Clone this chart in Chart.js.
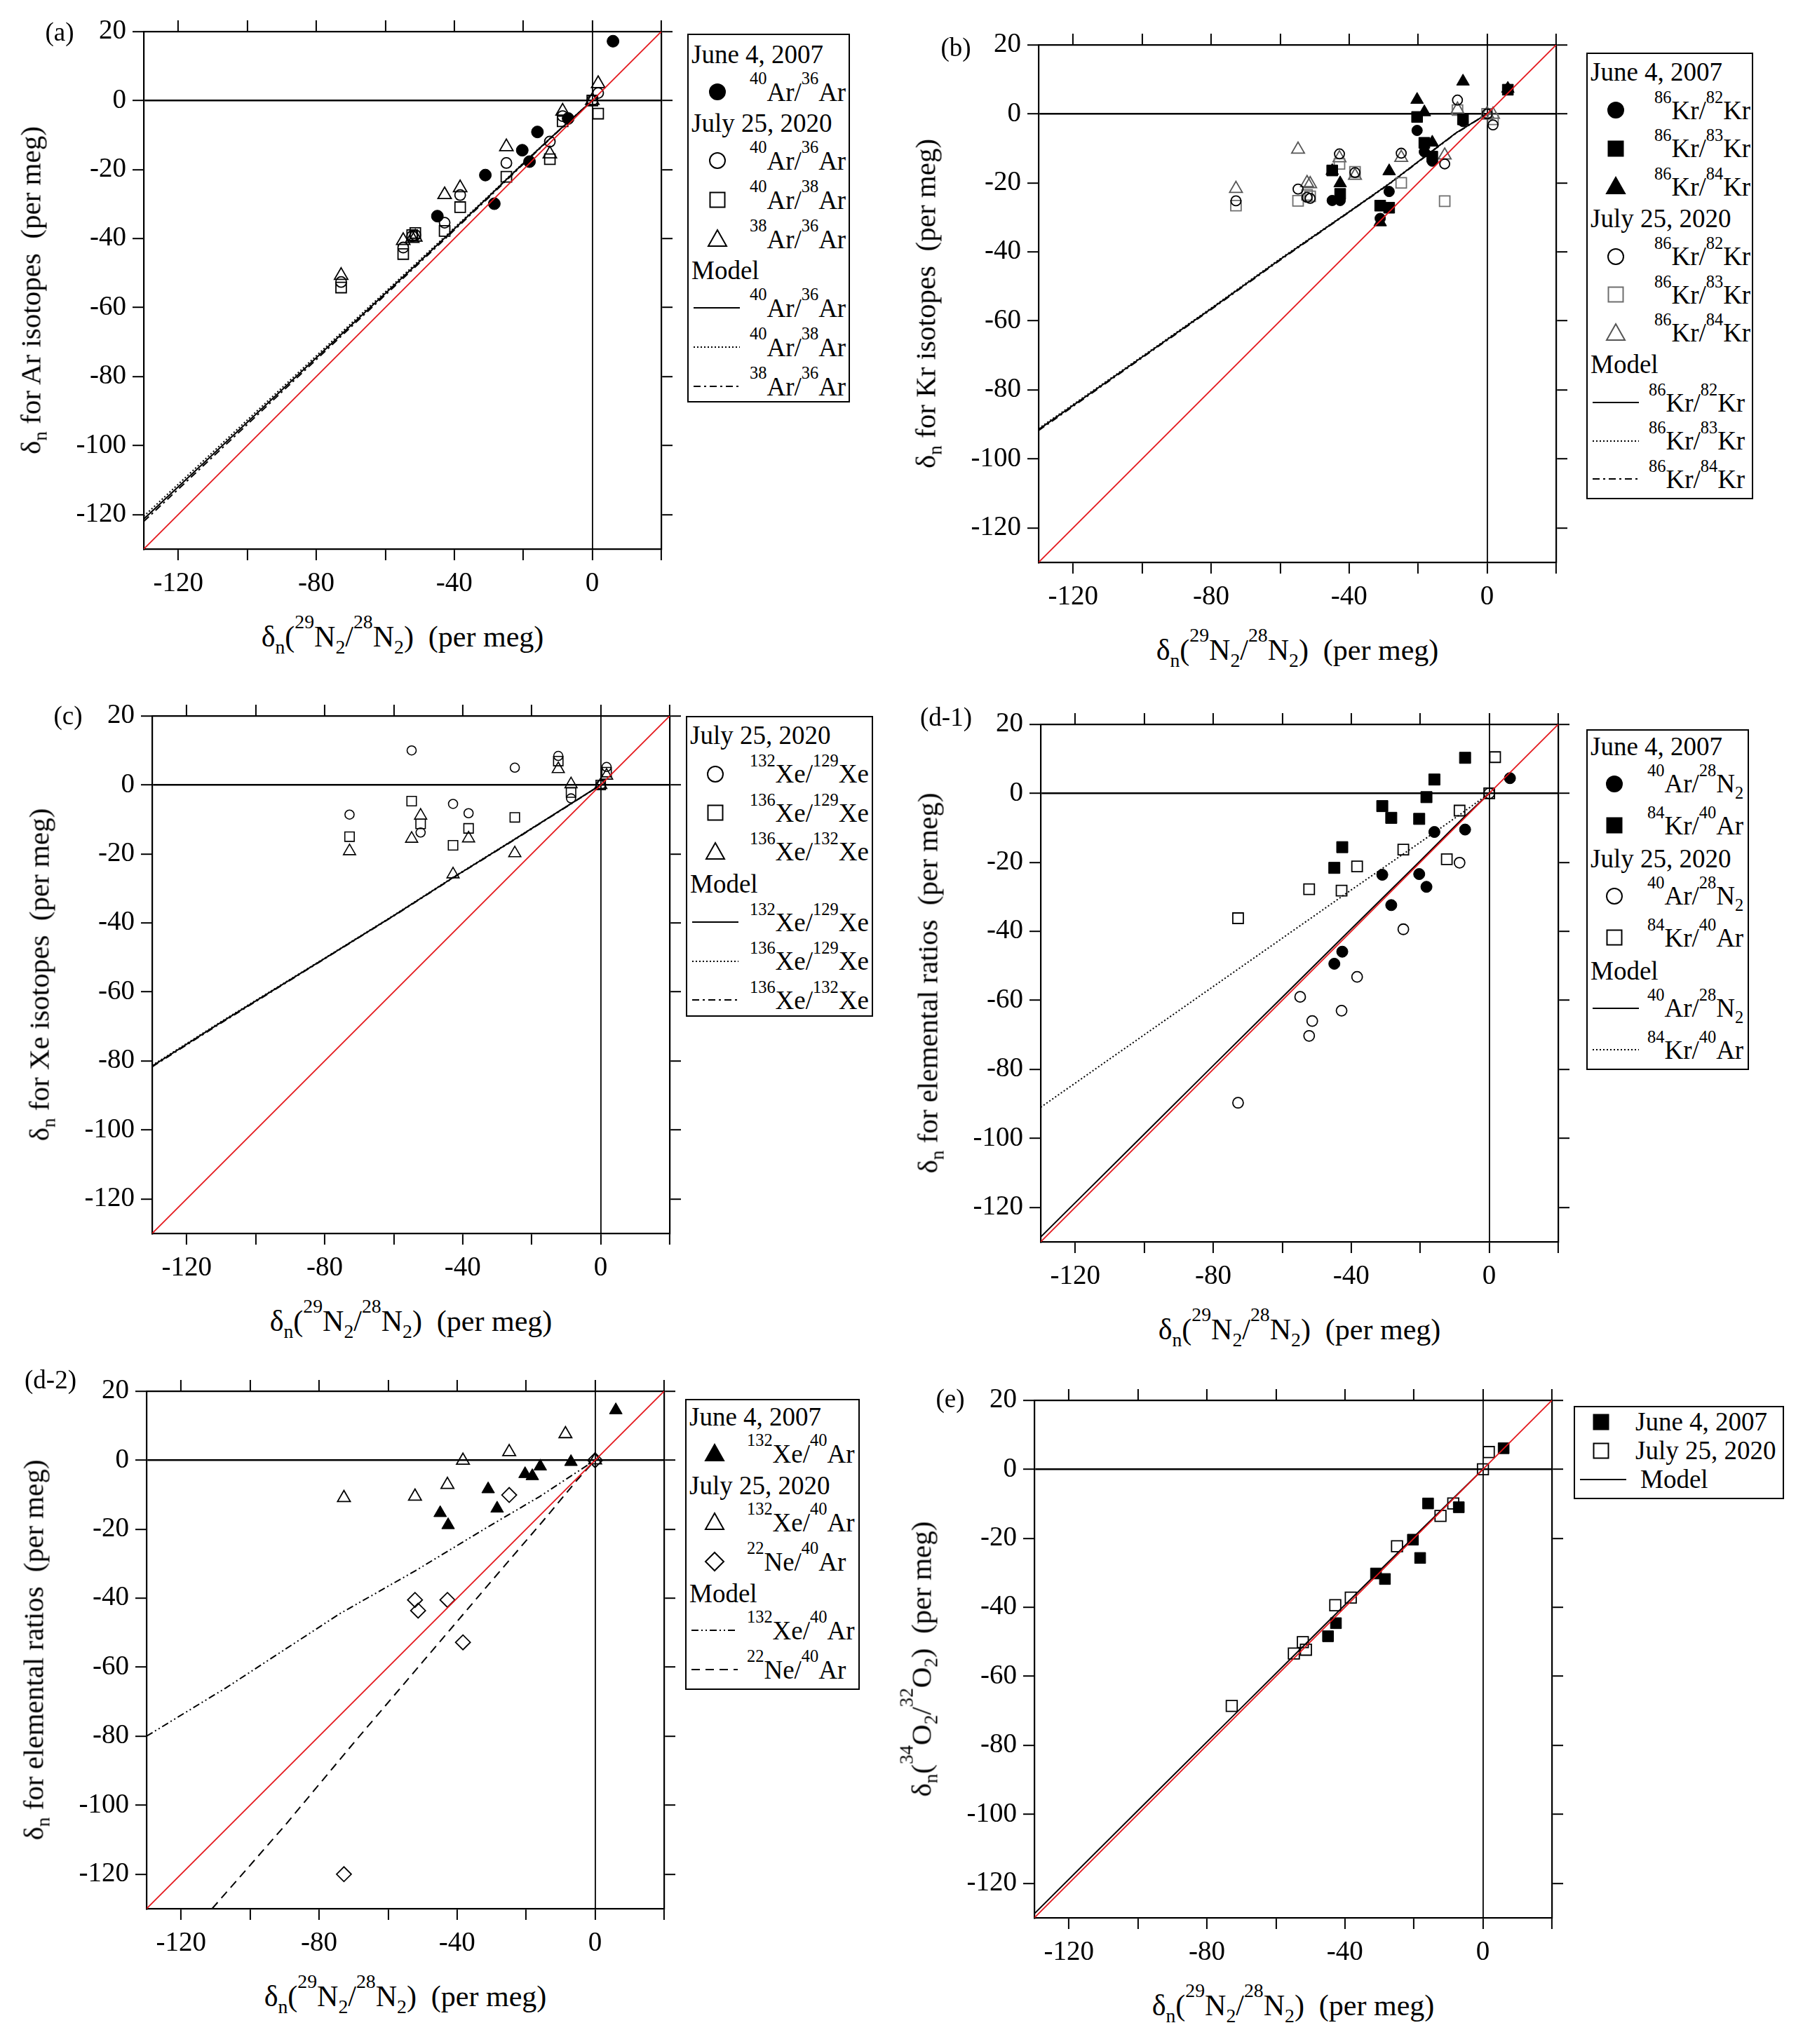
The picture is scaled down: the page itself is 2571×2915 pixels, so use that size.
<!DOCTYPE html>
<html>
<head>
<meta charset="utf-8">
<title>Noble gas and O2 isotope ratios vs d29N2</title>
<script src="https://cdn.jsdelivr.net/npm/chart.js@4.4.1/dist/chart.umd.min.js"></script>
<style>
  html, body { margin: 0; padding: 0; background: #fff; }
  body {
    width: 2571px; height: 2915px; position: relative; overflow: hidden;
    font-family: "Liberation Serif", "Times New Roman", serif; color: #000;
  }
  canvas { position: absolute; }
  sup, sub { font-size: 0.66em; line-height: 0; position: relative; vertical-align: baseline; }
  sup { top: -0.95em; }
  sub { top: 0.35em; }
  .tag, .xtitle, .ytitle { position: absolute; line-height: 1; white-space: nowrap; }
  .tag    { font-size: 37px; transform: translate(-50%, -50%); }
  .xtitle { font-size: 42px; transform: translate(-50%, -50%); }
  .ytitle { font-size: 41px; transform: translate(-50%, -50%) rotate(-90deg); }
  .legend {
    position: absolute; box-sizing: border-box; border: 2px solid #000;
    background: #fff; font-size: 37px; line-height: 1; z-index: 2;
  }
  .legend .head { display: flex; align-items: center; padding-left: 4px; white-space: nowrap; }
  .legend .item { display: flex; align-items: center; white-space: nowrap; box-sizing: border-box; }
  .legend .sym  { flex: none; display: flex; align-items: center; }
</style>
</head>
<body>
<script>
/* ── Shared axes ───────────────────────────────────────────────────────────── */
const AXIS_MIN = -130;
const AXIS_MAX = 20;
const X_TICKS = [-120, -100, -80, -60, -40, -20, 0, 20];
const X_TICK_LABELS = [-120, -80, -40, 0];
const Y_TICKS = [-120, -100, -80, -60, -40, -20, 0, 20];
const ONE_TO_ONE = [-130, 20];

// δn(29N2/28N2) of each sample (x of every point)
const X_2007 = [6.0, -7.0, -15.9, -18.2, -20.3, -28.4, -31.0, -42.6, -44.9];
const X_2020 = [1.7, 0, -8.6, -12.3, -24.9, -38.3, -42.8, -51.3, -52.2, -54.8, -72.8];

/* ── (a) Ar isotopes ───────────────────────────────────────────────────────── */
const A_AR40_36_2007 = [17.2, -5.2, -9.1, -17.7, -14.4, -29.9, -21.6, null, -33.5];
const A_AR40_36_2020 = [2.2, 0, -4.5, -11.9, -18.1, -27.4, -35.4, -39.0, -39.3, -42.6, -52.6];
const A_AR40_38_2020 = [-3.8, 0, -6.0, -17.0, -22.1, -30.9, -37.8, -38.4, -39.0, -44.5, -54.2];
const A_AR38_36_2020 = [4.9, 0, -3.1, -15.5, -13.4, -25.3, -27.3, -39.6, -40.0, -40.6, -50.7];
const A_MODEL_X = [-130, -110, -90, -70, -50, -30, -20, -10, 0];
const A_MODEL_AR40_36 = [-121.3, -102.6, -83.9, -65.2, -46.6, -27.8, -18.2, -8.9, 0];
const A_MODEL_AR40_38 = [-120.5, -101.9, -83.3, -64.7, -46.2, -27.6, -18.1, -8.9, 0];
const A_MODEL_AR38_36 = [-122.0, -103.3, -84.5, -65.7, -47.0, -28.1, -18.4, -9.0, 0];

/* ── (b) Kr isotopes ───────────────────────────────────────────────────────── */
const B_KR82_2007 = [7.2, -2.2, -13.7, -11.0, -4.8, -22.5, -30.3, -25.1, -25.1];
const B_KR83_2007 = [7.0, -1.6, -12.4, -8.4, -0.9, -27.2, -26.6, -23.2, -16.4];
const B_KR84_2007 = [7.3, 9.4, -8.3, 0.5, 4.1, -16.6, -31.4, -20.1, -16.5];
const B_KR82_2020 = [-3.2, 0, 4.0, -14.5, -11.4, -17.0, -11.6, -24.5, -24.2, -21.8, -25.2];
const B_KR83_2020 = [-1.6, 0, 1.1, -25.3, -20.0, -16.8, -14.5, -23.9, -23.5, -25.2, -26.6];
const B_KR84_2020 = [-0.2, 0, 1.3, -12.0, -12.7, -17.9, -12.8, -20.3, -20.0, -10.3, -21.7];
const B_MODEL_X = [-130, -100, -80, -60, -40, -28, -16, -9, 0];
const B_MODEL_82 = [-91.5, -70.5, -56.5, -42.2, -28.4, -20.0, -10.8, -5.5, 0];
const B_MODEL_83 = [-91.2, -70.3, -56.3, -42.0, -28.3, -19.9, -10.8, -5.5, 0];
const B_MODEL_84 = [-91.8, -70.7, -56.7, -42.4, -28.5, -20.1, -10.9, -5.6, 0];

/* ── (c) Xe isotopes ───────────────────────────────────────────────────────── */
const C_XE132_129 = [5.2, 0, -3.9, 8.4, 5.0, -8.2, -5.5, null, -13.8, 10.0, -8.6];
const C_XE136_129 = [3.7, 0, -2.2, 6.9, -9.4, -12.6, -17.5, null, -11.3, -4.7, -15.0];
const C_XE136_132 = [2.7, 0, 0.2, 4.6, -19.8, -15.5, -25.9, null, -8.9, -15.6, -19.2];
const C_MODEL_X = [-130, -110, -80, -60, -43, -25, -10, 0];
const C_MODEL_132_129 = [-81.5, -68.8, -50.3, -37.9, -27.0, -15.8, -6.3, 0];
const C_MODEL_136_129 = [-81.3, -68.6, -50.2, -37.8, -26.9, -15.7, -6.3, 0];
const C_MODEL_136_132 = [-81.7, -69.0, -50.4, -38.0, -27.1, -15.9, -6.4, 0];

/* ── (d-1) Ar/N2 and Kr/Ar ─────────────────────────────────────────────────── */
const D1_AR_N2_2007 = [4.4, -10.5, -11.2, -27.1, -23.4, -32.4, -23.6, -45.9, -49.4];
const D1_KR_AR_2007 = [null, 10.3, 4.0, -1.1, -7.4, -7.1, -3.7, -15.6, -21.6];
const D1_AR_N2_2020 = [null, 0, -20.1, null, -39.4, -53.2, -63.0, -66.0, -70.3, -59.0, -89.7];
const D1_KR_AR_2020 = [10.5, 0, -5.0, -19.1, -16.3, -21.2, -28.2, null, -27.8, null, -36.2];
const D1_MODEL_X = [-130, -100, -80, -60, -40, -20, -8, 0];
const D1_MODEL_AR_N2 = [-128.6, -98.8, -78.9, -59.1, -39.3, -19.6, -7.6, 0];
const D1_MODEL_KR_AR = [-91.0, -70.0, -56.0, -42.0, -28.0, -14.2, -5.8, 0];

/* ── (d-2) Xe/Ar and Ne/Ar ─────────────────────────────────────────────────── */
const D2_XE_AR_2007 = [14.5, -0.5, -1.8, -4.6, -4.0, -14.0, -8.4, -18.8, -15.3];
const D2_XE_AR_2020 = [null, 0, 7.6, null, 2.4, -0.1, -7.1, null, -10.5, null, -10.9];
const D2_NE_AR_2020 = [null, 0, null, null, -10.1, -52.8, -40.5, -43.6, -40.5, null, -120.0];
const D2_MODEL_XE_X = [-130, -107, -74, -52, -31, -16, 0];
const D2_MODEL_XE_AR = [-80.0, -66.0, -44.5, -32.0, -19.3, -10.5, 0];
const D2_MODEL_NE_X = [-111, -90, -70, -50, -30, -15, -5, 0];
const D2_MODEL_NE_AR = [-130, -106, -82, -58.5, -35, -17.5, -5.5, 0];

/* ── (e) O2 ────────────────────────────────────────────────────────────────── */
const E_O2_2007 = [6.1, -11.0, -9.9, -25.7, -20.4, -31.8, -30.2, -44.6, -48.4];
const E_O2_2020 = [5.0, 0, -9.9, -13.5, -22.3, -37.2, -39.4, -52.3, -50.1, -53.4, -68.6];
const E_MODEL_X = [-130, -100, -70, -40, -20, 0];
const E_MODEL_O2 = [-128.8, -98.9, -69.1, -39.3, -19.6, 0];

/* ── Styling ───────────────────────────────────────────────────────────────── */
const RED = "#e3161b";
const GREY_SQ = "#6e6e6e";
const GREY_TRI = "#555555";
const SOLID = [];
const DOT = [2, 3];
const DASH_DOT = [10, 5, 3, 5];
const DASH_DOT_DOT = [10, 4, 2, 4, 2, 4];
const DASH = [12, 8];
const TICK_FONT = { family: "Liberation Serif", size: 39 };

Chart.defaults.font.family = "Liberation Serif";

const PLOT = 738;                    // plot area is square, 150 units each way
const PAD_L = 150, PAD_R = 40, PAD_T = 50, PAD_B = 80;

const X_TITLE = "δ<sub>n</sub>(<sup>29</sup>N<sub>2</sub>/<sup>28</sup>N<sub>2</sub>)&nbsp; (per meg)";

// ── dataset helpers ───────────────────────────────────────────────────────────
function pts(xs, ys, style, filled, color, r, bw) {
  return {
    data: xs.map((x, i) => ({ x, y: ys[i] })).filter((p) => p.y !== null),
    pointStyle: style,
    pointRadius: r,
    pointBorderWidth: bw || (filled ? 1 : 1.8),
    pointBorderColor: color,
    pointBackgroundColor: filled ? color : "rgba(0,0,0,0)",
    showLine: false,
  };
}

function line(xs, ys, dash, color, width) {
  return {
    data: xs.map((x, i) => ({ x, y: ys[i] })),
    showLine: true,
    borderColor: color || "#000",
    borderWidth: width || 2,
    borderDash: dash,
    pointRadius: 0,
    fill: false,
    tension: 0,
  };
}

function redLine() {
  return line(ONE_TO_ONE, ONE_TO_ONE, SOLID, RED, 1.8);
}

// ── axes ──────────────────────────────────────────────────────────────────────
function axis(position, size, labels) {
  const horizontal = position === "bottom" || position === "top";
  const main = position === "bottom" || position === "left";
  return {
    type: "linear",
    position,
    min: AXIS_MIN,
    max: AXIS_MAX,
    afterBuildTicks: (s) => {
      s.ticks = (horizontal ? X_TICKS : Y_TICKS).map((v) => ({ value: v }));
    },
    afterFit: (s) => {
      if (horizontal) s.height = size;
      else s.width = size;
    },
    border: { display: true, color: "#000", width: 2.2 },
    grid: {
      drawOnChartArea: main,
      color: (ctx) => (ctx.tick && ctx.tick.value === 0 ? "#000" : "rgba(0,0,0,0)"),
      lineWidth: horizontal ? 1.8 : 2.4,
      drawTicks: true,
      tickLength: 16,
      tickWidth: 2,
      tickColor: "#000",
    },
    ticks: {
      display: !!labels,
      autoSkip: false,
      maxRotation: 0,
      minRotation: 0,
      padding: horizontal ? 10 : 9,
      color: "#000",
      font: TICK_FONT,
      callback: (v) => (labels && labels.includes(v) ? String(v) : ""),
    },
  };
}

// ── panel ─────────────────────────────────────────────────────────────────────
function addText(cls, html, x, y) {
  const el = document.createElement("div");
  el.className = cls;
  el.innerHTML = html;
  el.style.left = x + "px";
  el.style.top = y + "px";
  document.body.appendChild(el);
}

function drawPanel(p, datasets) {
  const canvas = document.createElement("canvas");
  canvas.width = PAD_L + PLOT + PAD_R;
  canvas.height = PAD_T + PLOT + PAD_B;
  canvas.style.left = (p.left - PAD_L) + "px";
  canvas.style.top = (p.top - PAD_T) + "px";
  canvas.style.width = canvas.width + "px";
  canvas.style.height = canvas.height + "px";
  document.body.appendChild(canvas);

  new Chart(canvas, {
    type: "scatter",
    data: { datasets },
    options: {
      responsive: false,
      animation: false,
      devicePixelRatio: 1,
      events: [],
      layout: { padding: 0 },
      plugins: { legend: { display: false }, tooltip: { enabled: false } },
      scales: {
        x: axis("bottom", PAD_B, X_TICK_LABELS),
        y: axis("left", PAD_L, Y_TICKS),
        x2: axis("top", PAD_T, null),
        y2: axis("right", PAD_R, null),
      },
    },
  });

  addText("tag", p.tag, p.tagX, p.tagY);
  addText("xtitle", X_TITLE, p.left + PLOT / 2, p.top + PLOT + 125);
  addText("ytitle", p.ytitle, p.left - 161, p.top + PLOT / 2);
}

// ── legend ────────────────────────────────────────────────────────────────────
function symbolSvg(kind, filled, color, w, cx) {
  const cy = 20;
  const fill = filled ? color : "none";
  const a = `fill="${fill}" stroke="${color}" stroke-width="2"`;
  let shape = "";
  if (kind === "circle") shape = `<circle cx="${cx}" cy="${cy}" r="11" ${a}/>`;
  if (kind === "rect") shape = `<rect x="${cx - 10.5}" y="${cy - 10.5}" width="21" height="21" ${a}/>`;
  if (kind === "triangle") shape = `<polygon points="${cx},${cy - 13} ${cx + 13},${cy + 10} ${cx - 13},${cy + 10}" ${a}/>`;
  if (kind === "rectRot") shape = `<polygon points="${cx},${cy - 13} ${cx + 13},${cy} ${cx},${cy + 13} ${cx - 13},${cy}" ${a}/>`;
  return `<svg width="${w}" height="40">${shape}</svg>`;
}

function lineSvg(dash, w) {
  return `<svg width="${w}" height="40"><line x1="7" y1="20" x2="73" y2="20" stroke="#000" stroke-width="2" stroke-dasharray="${dash.join(",")}"/></svg>`;
}

function buildLegend(cfg, rows) {
  const box = document.createElement("div");
  box.className = "legend";
  box.style.left = cfg.left + "px";
  box.style.top = cfg.top + "px";
  box.style.width = cfg.width + "px";
  box.style.height = cfg.height + "px";
  box.style.paddingTop = cfg.padTop + "px";
  for (const r of rows) {
    const row = document.createElement("div");
    if (r[0] === "h") {
      row.className = "head";
      row.style.height = cfg.headH + "px";
      row.innerHTML = r[1];
    } else {
      row.className = "item";
      row.style.height = cfg.itemH + "px";
      row.style.paddingTop = 2 * cfg.shift + "px";
      const w = (r[0] === "p" ? cfg.labelX : cfg.lineLabelX) - 2;
      const svg = r[0] === "p"
        ? symbolSvg(r[1], r[2], r[3], w, cfg.symX - 2)
        : lineSvg(r[1], w);
      row.innerHTML = `<span class="sym" style="width:${w}px">${svg}</span><span>${r[r.length - 1]}</span>`;
    }
    box.appendChild(row);
  }
  document.body.appendChild(box);
}

const AR40_36 = "<sup>40</sup>Ar/<sup>36</sup>Ar";
const AR40_38 = "<sup>40</sup>Ar/<sup>38</sup>Ar";
const AR38_36 = "<sup>38</sup>Ar/<sup>36</sup>Ar";
const KR82 = "<sup>86</sup>Kr/<sup>82</sup>Kr";
const KR83 = "<sup>86</sup>Kr/<sup>83</sup>Kr";
const KR84 = "<sup>86</sup>Kr/<sup>84</sup>Kr";
const XE132_129 = "<sup>132</sup>Xe/<sup>129</sup>Xe";
const XE136_129 = "<sup>136</sup>Xe/<sup>129</sup>Xe";
const XE136_132 = "<sup>136</sup>Xe/<sup>132</sup>Xe";
const AR_N2 = "<sup>40</sup>Ar/<sup>28</sup>N<sub>2</sub>";
const KR_AR = "<sup>84</sup>Kr/<sup>40</sup>Ar";
const XE_AR = "<sup>132</sup>Xe/<sup>40</sup>Ar";
const NE_AR = "<sup>22</sup>Ne/<sup>40</sup>Ar";

/* ── (a) ───────────────────────────────────────────────────────────────────── */
drawPanel(
  { tag: "(a)", tagX: 85, tagY: 45, left: 205, top: 45,
    ytitle: "δ<sub>n</sub> for Ar isotopes&nbsp; (per meg)" },
  [
    redLine(),
    pts(X_2007, A_AR40_36_2007, "circle", true, "#000", 8.5),
    pts(X_2020, A_AR40_36_2020, "circle", false, "#000", 7.5),
    pts(X_2020, A_AR40_38_2020, "rect", false, "#000", 10.5),
    pts(X_2020, A_AR38_36_2020, "triangle", false, "#000", 11),
    line(A_MODEL_X, A_MODEL_AR40_36, SOLID),
    line(A_MODEL_X, A_MODEL_AR40_38, DOT),
    line(A_MODEL_X, A_MODEL_AR38_36, DASH_DOT),
  ]
);
buildLegend(
  { left: 980, top: 48, width: 232, height: 526, padTop: 6, headH: 42, itemH: 56, shift: 5,
    symX: 43, labelX: 89, lineLabelX: 89 },
  [
    ["h", "June 4, 2007"],
    ["p", "circle", true, "#000", AR40_36],
    ["h", "July 25, 2020"],
    ["p", "circle", false, "#000", AR40_36],
    ["p", "rect", false, "#000", AR40_38],
    ["p", "triangle", false, "#000", AR38_36],
    ["h", "Model"],
    ["l", SOLID, AR40_36],
    ["l", DOT, AR40_38],
    ["l", DASH_DOT, AR38_36],
  ]
);

/* ── (b) ───────────────────────────────────────────────────────────────────── */
drawPanel(
  { tag: "(b)", tagX: 1363, tagY: 67, left: 1481, top: 64,
    ytitle: "δ<sub>n</sub> for Kr isotopes&nbsp; (per meg)" },
  [
    redLine(),
    pts(X_2007, B_KR82_2007, "circle", true, "#000", 7.5),
    pts(X_2007, B_KR83_2007, "rect", true, "#000", 11),
    pts(X_2007, B_KR84_2007, "triangle", true, "#000", 10.5),
    pts(X_2020, B_KR82_2020, "circle", false, "#000", 7),
    pts(X_2020, B_KR83_2020, "rect", false, GREY_SQ, 10.5),
    pts(X_2020, B_KR84_2020, "triangle", false, GREY_TRI, 10.5),
    line(B_MODEL_X, B_MODEL_82, SOLID),
    line(B_MODEL_X, B_MODEL_83, DOT),
    line(B_MODEL_X, B_MODEL_84, DASH_DOT),
  ]
);
buildLegend(
  { left: 2262, top: 75, width: 238, height: 637, padTop: 3, headH: 45, itemH: 54.5, shift: 5,
    symX: 42, labelX: 97, lineLabelX: 89 },
  [
    ["h", "June 4, 2007"],
    ["p", "circle", true, "#000", KR82],
    ["p", "rect", true, "#000", KR83],
    ["p", "triangle", true, "#000", KR84],
    ["h", "July 25, 2020"],
    ["p", "circle", false, "#000", KR82],
    ["p", "rect", false, GREY_SQ, KR83],
    ["p", "triangle", false, GREY_TRI, KR84],
    ["h", "Model"],
    ["l", SOLID, KR82],
    ["l", DOT, KR83],
    ["l", DASH_DOT, KR84],
  ]
);

/* ── (c) ───────────────────────────────────────────────────────────────────── */
drawPanel(
  { tag: "(c)", tagX: 97, tagY: 1020, left: 217, top: 1021,
    ytitle: "δ<sub>n</sub> for Xe isotopes&nbsp; (per meg)" },
  [
    redLine(),
    pts(X_2020, C_XE132_129, "circle", false, "#000", 6.5, 1.6),
    pts(X_2020, C_XE136_129, "rect", false, "#000", 9.5, 1.6),
    pts(X_2020, C_XE136_132, "triangle", false, "#000", 10, 1.6),
    line(C_MODEL_X, C_MODEL_132_129, SOLID),
    line(C_MODEL_X, C_MODEL_136_129, DOT),
    line(C_MODEL_X, C_MODEL_136_132, DASH_DOT),
  ]
);
buildLegend(
  { left: 978, top: 1021, width: 267, height: 429, padTop: 3, headH: 45, itemH: 55.5, shift: 5,
    symX: 42, labelX: 91, lineLabelX: 91 },
  [
    ["h", "July 25, 2020"],
    ["p", "circle", false, "#000", XE132_129],
    ["p", "rect", false, "#000", XE136_129],
    ["p", "triangle", false, "#000", XE136_132],
    ["h", "Model"],
    ["l", SOLID, XE132_129],
    ["l", DOT, XE136_129],
    ["l", DASH_DOT, XE136_132],
  ]
);

/* ── (d-1) ─────────────────────────────────────────────────────────────────── */
drawPanel(
  { tag: "(d-1)", tagX: 1349, tagY: 1022, left: 1484, top: 1033,
    ytitle: "δ<sub>n</sub> for elemental ratios&nbsp; (per meg)" },
  [
    redLine(),
    pts(X_2007, D1_AR_N2_2007, "circle", true, "#000", 8),
    pts(X_2007, D1_KR_AR_2007, "rect", true, "#000", 11.3),
    pts(X_2020, D1_AR_N2_2020, "circle", false, "#000", 7.5),
    pts(X_2020, D1_KR_AR_2020, "rect", false, "#000", 10.6),
    line(D1_MODEL_X, D1_MODEL_AR_N2, SOLID),
    line(D1_MODEL_X, D1_MODEL_KR_AR, DOT),
  ]
);
buildLegend(
  { left: 2262, top: 1040, width: 232, height: 486, padTop: 2, headH: 41, itemH: 59.5, shift: 3,
    symX: 40, labelX: 87, lineLabelX: 87 },
  [
    ["h", "June 4, 2007"],
    ["p", "circle", true, "#000", AR_N2],
    ["p", "rect", true, "#000", KR_AR],
    ["h", "July 25, 2020"],
    ["p", "circle", false, "#000", AR_N2],
    ["p", "rect", false, "#000", KR_AR],
    ["h", "Model"],
    ["l", SOLID, AR_N2],
    ["l", DOT, KR_AR],
  ]
);

/* ── (d-2) ─────────────────────────────────────────────────────────────────── */
drawPanel(
  { tag: "(d-2)", tagX: 72, tagY: 1967, left: 209, top: 1984,
    ytitle: "δ<sub>n</sub> for elemental ratios&nbsp; (per meg)" },
  [
    redLine(),
    pts(X_2007, D2_XE_AR_2007, "triangle", true, "#000", 10.5),
    pts(X_2020, D2_XE_AR_2020, "triangle", false, "#000", 10.5),
    pts(X_2020, D2_NE_AR_2020, "rectRot", false, "#000", 10.5),
    line(D2_MODEL_XE_X, D2_MODEL_XE_AR, DASH_DOT_DOT),
    line(D2_MODEL_NE_X, D2_MODEL_NE_AR, DASH),
  ]
);
buildLegend(
  { left: 977, top: 1995, width: 249, height: 415, padTop: 2, headH: 42, itemH: 56, shift: 4,
    symX: 42, labelX: 88, lineLabelX: 88 },
  [
    ["h", "June 4, 2007"],
    ["p", "triangle", true, "#000", XE_AR],
    ["h", "July 25, 2020"],
    ["p", "triangle", false, "#000", XE_AR],
    ["p", "rectRot", false, "#000", NE_AR],
    ["h", "Model"],
    ["l", DASH_DOT_DOT, XE_AR],
    ["l", DASH, NE_AR],
  ]
);

/* ── (e) ───────────────────────────────────────────────────────────────────── */
drawPanel(
  { tag: "(e)", tagX: 1355, tagY: 1994, left: 1475, top: 1997,
    ytitle: "δ<sub>n</sub>(<sup>34</sup>O<sub>2</sub>/<sup>32</sup>O<sub>2</sub>)&nbsp; (per meg)" },
  [
    redLine(),
    pts(X_2007, E_O2_2007, "rect", true, "#000", 11),
    pts(X_2020, E_O2_2020, "rect", false, "#000", 11),
    line(E_MODEL_X, E_MODEL_O2, SOLID),
  ]
);
buildLegend(
  { left: 2244, top: 2005, width: 300, height: 133, padTop: 0, headH: 41, itemH: 41, shift: 0,
    symX: 39, labelX: 88, lineLabelX: 95 },
  [
    ["p", "rect", true, "#000", "June 4, 2007"],
    ["p", "rect", false, "#000", "July 25, 2020"],
    ["l", SOLID, "Model"],
  ]
);
</script>
</body>
</html>
